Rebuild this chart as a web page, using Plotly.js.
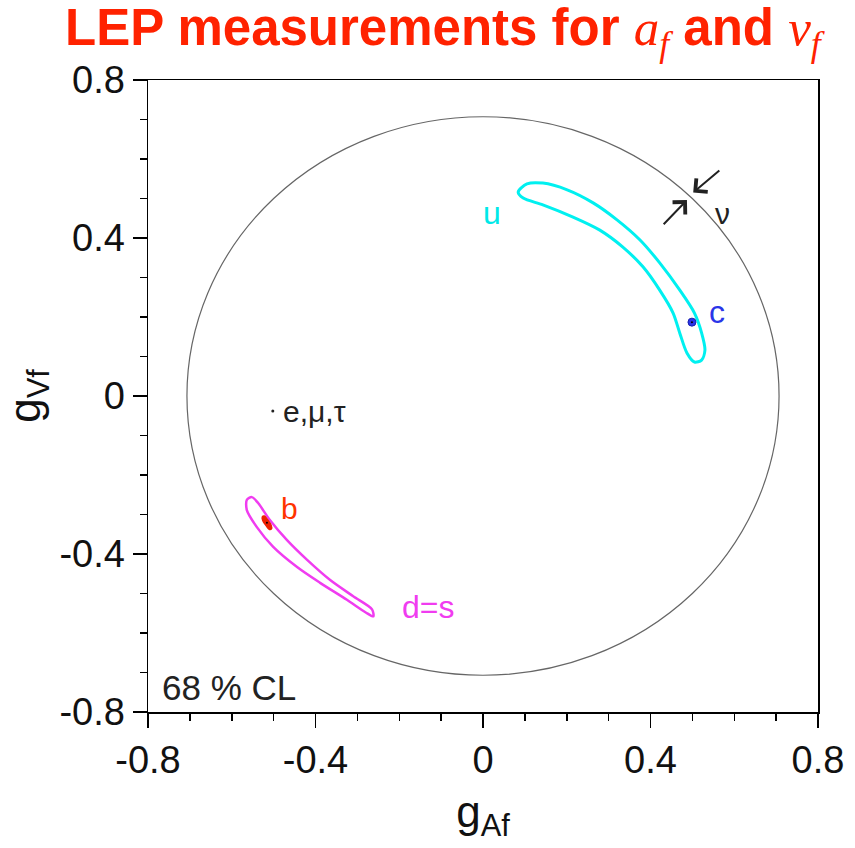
<!DOCTYPE html>
<html>
<head>
<meta charset="utf-8">
<script src="https://cdn.plot.ly/plotly-3.0.1.min.js"></script>
<style>html,body{margin:0;padding:0;background:#fff;}#chart{width:855px;height:848px;}</style>
</head>
<body>
<div id="chart"></div>
<script>
// ---- data ----
const tickValues = [-0.8, -0.4, 0, 0.4, 0.8];
const tickLabels = ["-0.8", "-0.4", "0", "0.4", "0.8"];

const circleRadius = 0.707;

// u-quark 68% CL contour (g_A, g_V)
const uContourA = [0.084, 0.105, 0.143, 0.201, 0.263, 0.320, 0.375, 0.422, 0.470, 0.505, 0.522, 0.530, 0.522, 0.505,
                   0.487, 0.470, 0.454, 0.422, 0.382, 0.334, 0.279, 0.215, 0.143, 0.096, 0.084];
const uContourV = [0.516, 0.537, 0.539, 0.522, 0.489, 0.446, 0.395, 0.337, 0.268, 0.210, 0.160, 0.116, 0.091, 0.086,
                   0.109, 0.159, 0.210, 0.268, 0.327, 0.377, 0.420, 0.453, 0.484, 0.501, 0.516];

// d=s 68% CL contour
const dsContourA = [-0.564, -0.564, -0.540, -0.501, -0.444, -0.389, -0.325, -0.280, -0.262,
                    -0.265, -0.310, -0.365, -0.420, -0.468, -0.509, -0.537, -0.552, -0.564];
const dsContourV = [-0.263, -0.289, -0.332, -0.382, -0.433, -0.473, -0.516, -0.548, -0.558,
                    -0.540, -0.507, -0.466, -0.415, -0.365, -0.314, -0.271, -0.256, -0.263];

// b-quark contour (small)
const bContourA = [-0.527, -0.522, -0.514, -0.506, -0.505, -0.510, -0.518, -0.526, -0.527];
const bContourV = [-0.306, -0.304, -0.314, -0.327, -0.336, -0.338, -0.328, -0.315, -0.306];
const bPointA = [-0.516];
const bPointV = [-0.321];

// c-quark measurement
const cPointA = [0.499];
const cPointV = [0.187];

// charged leptons e, mu, tau
const lepPointA = [-0.502];
const lepPointV = [-0.038];

// neutrino arrows: tips and tails
const nuTipA = [0.502, 0.487];
const nuTipV = [0.515, 0.496];
const nuTailA = [0.568, 0.428];
const nuTailV = [0.574, 0.431];

// ---- traces ----
const traces = [
  {x: uContourA, y: uContourV, mode: 'lines', line: {color: '#00f0f0', width: 3, shape: 'spline', smoothing: 0.8}, hoverinfo: 'skip', showlegend: false},
  {x: dsContourA, y: dsContourV, mode: 'lines', line: {color: '#f03cf0', width: 2.5, shape: 'spline', smoothing: 0.8}, hoverinfo: 'skip', showlegend: false},
  {x: bContourA, y: bContourV, mode: 'lines', fill: 'toself', fillcolor: '#ee2200', line: {color: '#ee2200', width: 1.5, shape: 'spline'}, hoverinfo: 'skip', showlegend: false},
  {x: bPointA, y: bPointV, mode: 'markers', marker: {color: '#000', size: 2}, hoverinfo: 'skip', showlegend: false},
  {x: cPointA, y: cPointV, mode: 'markers', marker: {color: '#2a35e8', size: 8, line: {color: '#1a20b0', width: 1}}, hoverinfo: 'skip', showlegend: false},
  {x: cPointA, y: cPointV, mode: 'markers', marker: {color: '#000', size: 2}, hoverinfo: 'skip', showlegend: false},
  {x: lepPointA, y: lepPointV, mode: 'markers', marker: {color: '#222', size: 3}, hoverinfo: 'skip', showlegend: false}
];

const labelFont = 'Liberation Sans, Arial, sans-serif';

const annotations = [
  {x: 0.021, y: 0.463, xref: 'x', yref: 'y', text: 'u', showarrow: false, font: {family: labelFont, size: 32, color: '#00e8e8'}},
  {x: 0.559, y: 0.213, xref: 'x', yref: 'y', text: 'c', showarrow: false, font: {family: labelFont, size: 32, color: '#2a35e8'}},
  {x: 0.573, y: 0.462, xref: 'x', yref: 'y', text: 'ν', showarrow: false, font: {family: labelFont, size: 30, color: '#222'}},
  {x: -0.482, y: -0.040, xref: 'x', yref: 'y', xanchor: 'left', text: 'e,μ,τ', showarrow: false, font: {family: labelFont, size: 30, color: '#222'}},
  {x: -0.461, y: -0.284, xref: 'x', yref: 'y', text: 'b', showarrow: false, font: {family: labelFont, size: 30, color: '#ff3300'}},
  {x: -0.131, y: -0.534, xref: 'x', yref: 'y', text: 'd=s', showarrow: false, font: {family: labelFont, size: 32, color: '#f03cf0'}},
  {x: -0.772, y: -0.739, xref: 'x', yref: 'y', xanchor: 'left', text: '68 % CL', showarrow: false, font: {family: labelFont, size: 35, color: '#222'}}
];
for (let i = 0; i < nuTipA.length; i++) {
  annotations.push({
    x: nuTipA[i], y: nuTipV[i], ax: nuTailA[i], ay: nuTailV[i],
    xref: 'x', yref: 'y', axref: 'x', ayref: 'y',
    text: '', showarrow: true, arrowhead: 4, arrowsize: 1.7, arrowwidth: 2, arrowcolor: '#222'
  });
}

const layout = {
  width: 855, height: 848,
  paper_bgcolor: '#fff', plot_bgcolor: '#fff',
  margin: {l: 148, r: 37, t: 80, b: 136},
  title: {
    text: 'LEP measurements for <span style="font-family:Liberation Serif,serif;font-weight:normal"><i>a</i><sub><i>f</i></sub></span> and <span style="font-family:Liberation Serif,serif;font-weight:normal"><i>v</i><sub><i>f</i></sub></span>',
    font: {family: labelFont, size: 51, color: '#ff2200', weight: 'bold'},
    xref: 'container', yref: 'container', x: 0.518, xanchor: 'center', y: 0.989, yanchor: 'top'
  },
  xaxis: {
    range: [-0.8, 0.8], tickvals: tickValues, ticktext: tickLabels,
    showgrid: false, zeroline: false, showline: true, mirror: true, linecolor: '#000', linewidth: 1.5,
    ticks: 'outside', ticklen: 14, tickwidth: 1.5, tickcolor: '#000',
    minor: {dtick: 0.1, ticks: 'outside', ticklen: 7, tickwidth: 1.5, tickcolor: '#000', showgrid: false},
    tickfont: {family: labelFont, size: 38, color: '#111'},
    title: {text: 'g<sub>Af</sub>', font: {family: labelFont, size: 44, color: '#111'}, standoff: 16},
    fixedrange: true
  },
  yaxis: {
    range: [-0.8, 0.8], tickvals: tickValues, ticktext: tickLabels,
    showgrid: false, zeroline: false, showline: true, mirror: true, linecolor: '#000', linewidth: 1.5,
    ticks: 'outside', ticklen: 14, tickwidth: 1.5, tickcolor: '#000',
    minor: {dtick: 0.1, ticks: 'outside', ticklen: 7, tickwidth: 1.5, tickcolor: '#000', showgrid: false},
    tickfont: {family: labelFont, size: 38, color: '#111'},
    title: {text: 'g<sub>Vf</sub>', font: {family: labelFont, size: 44, color: '#111'}, standoff: 14},
    fixedrange: true
  },
  shapes: [
    {type: 'circle', xref: 'x', yref: 'y', x0: -circleRadius, x1: circleRadius, y0: -circleRadius, y1: circleRadius,
     line: {color: '#666', width: 1.2}, layer: 'below'}
  ],
  annotations: annotations,
  showlegend: false
};

Plotly.newPlot('chart', traces, layout, {displayModeBar: false, staticPlot: true});
</script>
</body>
</html>
